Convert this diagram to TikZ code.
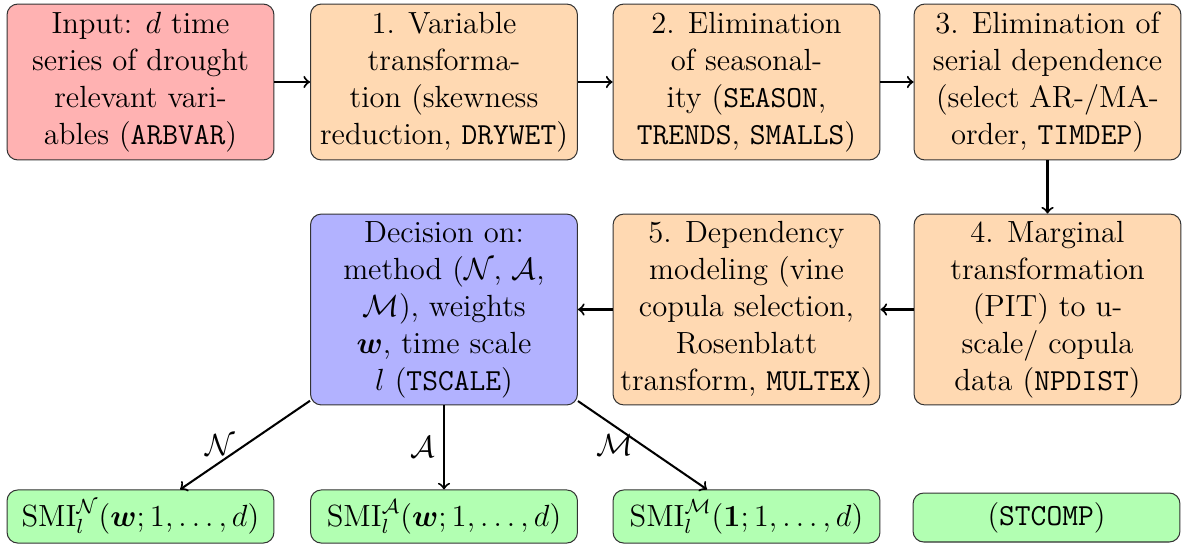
\documentclass[tikz,border=0pt]{standalone}
\usepackage{amsmath}
\begin{document}
\begin{tikzpicture}[x=0.3919pt,y=-0.3919pt,
  every node/.style={font=\fontsize{12}{14.5}\selectfont},
  box/.style={draw=black!80, rounded corners=4.2pt, align=center, inner sep=2.4pt,
    minimum width=104.6pt},
  toprow/.style={box, minimum height=61.1pt},
  midrow/.style={box, minimum height=74.8pt},
  inbox/.style={toprow, fill=red!30},
  stepbox/.style={fill=orange!30},
  decbox/.style={midrow, fill=blue!30},
  resbox/.style={box, fill=green!30, minimum height=20.8pt},
  arr/.style={->, thick}
]
\useasboundingbox (0,0) rectangle (1182,545);
\node[inbox] (b0) at (140.5,82) {Input: $d$ time\\series of drought\\relevant vari-\\ables (\texttt{ARBVAR})};
\node[toprow, stepbox] (b1) at (444,82) {1. Variable\\transforma-\\tion (skewness\\reduction, \texttt{DRYWET})};
\node[toprow, stepbox] (b2) at (746.5,82) {2. Elimination\\of seasonal-\\ity (\texttt{SEASON},\\\texttt{TRENDS}, \texttt{SMALLS})};
\node[toprow, stepbox] (b3) at (1047.5,82) {3. Elimination of\\serial dependence\\(select AR-/MA-\\order, \texttt{TIMDEP})};
\node[midrow, stepbox] (b4) at (1047.5,309.5) {4. Marginal\\transformation\\(PIT) to u-\\scale/ copula\\data (\texttt{NPDIST})};
\node[midrow, stepbox] (b5) at (746.5,309.5) {5. Dependency\\modeling (vine\\copula selection,\\Rosenblatt\\transform, \texttt{MULTEX})};
\node[decbox] (dec) at (444,309.5) {Decision on:\\method ($\mathcal{N}$, $\mathcal{A}$,\\$\mathcal{M}$), weights\\$\boldsymbol{w}$, time scale\\$l$ (\texttt{TSCALE})};
\node[resbox] (s1) at (140.5,516.5) {$\mathrm{SMI}_l^{\mathcal{N}}(\boldsymbol{w};1,\ldots,d)$};
\node[resbox] (s2) at (444,516.5) {$\mathrm{SMI}_l^{\mathcal{A}}(\boldsymbol{w};1,\ldots,d)$};
\node[resbox] (s3) at (746.5,516.5) {$\mathrm{SMI}_l^{\mathcal{M}}(\mathbf{1};1,\ldots,d)$};
\node[resbox, minimum height=19.2pt] (s4) at (1046.5,517.5) {(\texttt{STCOMP})};
\draw[arr] (b0) -- (b1);
\draw[arr] (b1) -- (b2);
\draw[arr] (b2) -- (b3);
\draw[arr] (b3) -- (b4);
\draw[arr] (b4) -- (b5);
\draw[arr] (b5) -- (dec);
\draw[arr] (dec) -- (s1) node[midway, left] {$\mathcal{N}$};
\draw[arr] (dec) -- (s2) node[midway, left] {$\mathcal{A}$};
\draw[arr] (dec) -- (s3) node[midway, left] {$\mathcal{M}$};
\end{tikzpicture}
\end{document}
